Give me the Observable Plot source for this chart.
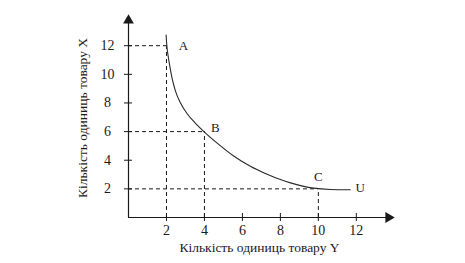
<!DOCTYPE html>
<html>
<head>
<meta charset="utf-8">
<script src="https://cdn.jsdelivr.net/npm/d3@7"></script>
<script src="https://cdn.jsdelivr.net/npm/@observablehq/plot@0.6"></script>
<style>
  html, body { margin: 0; padding: 0; background: #fff; }
  #chart svg { display: block; background: linear-gradient(#8a8a8a 0, #8a8a8a 2px, #fff 2px); }
</style>
</head>
<body>
<div id="chart"></div>
<script>
// ---- data ----
const xTicks = [2, 4, 6, 8, 10, 12];
const yTicks = [2, 4, 6, 8, 10, 12];
const curveX = [1.98, 2.02, 2.08, 2.16, 2.3, 2.47, 2.74, 3.09, 3.53, 4.0, 4.67, 5.54, 6.42, 7.3, 8.0, 8.53, 9.75, 10.63, 11.68];
const curveY = [12.75, 12.0, 11.35, 10.7, 9.7, 8.85, 8.0, 7.25, 6.58, 5.97, 5.2, 4.3, 3.58, 3.02, 2.65, 2.42, 2.05, 1.96, 1.94];
const pointNames = ["A", "B", "C"];
const pointX = [2, 4, 10];
const pointY = [12, 6, 2];
const curveName = "U";
const xTitle = "Кількість одиниць товару Y";
const yTitle = "Кількість одиниць товару X";
const xMax = 13.8;
const yMax = 13.9;

// ---- tables ----
const curve = curveX.map((x, i) => ({x, y: curveY[i]}));
const points = pointNames.map((name, i) => ({name, x: pointX[i], y: pointY[i]}));
const last = curve[curve.length - 1];

const font = "Liberation Serif, Times New Roman, serif";
const ink = "#1a1a1a";

const chart = Plot.plot({
  width: 465,
  height: 263,
  marginLeft: 128,
  marginRight: 75,
  marginTop: 18,
  marginBottom: 46,
  style: {fontFamily: font, fontSize: "13px", color: ink, background: "transparent"},
  x: {domain: [0, xMax], axis: null},
  y: {domain: [0, yMax], axis: null},
  marks: [
    // dashed guides
    Plot.ruleY(points, {y: "y", x1: 0, x2: "x", stroke: ink, strokeWidth: 1, strokeDasharray: "4,3"}),
    Plot.ruleX(points, {x: "x", y1: 0, y2: "y", stroke: ink, strokeWidth: 1, strokeDasharray: "4,3"}),
    // axes lines
    Plot.ruleX([0], {y1: 0, y2: yMax, stroke: ink, strokeWidth: 1.2}),
    Plot.ruleY([0], {x1: 0, x2: xMax, stroke: ink, strokeWidth: 1.2}),
    Plot.dot([{x: 0, y: yMax}], {x: "x", y: "y", symbol: "triangle", r: 4, fill: ink, stroke: null, dy: 2}),
    Plot.dot([{x: xMax, y: 0}], {x: "x", y: "y", symbol: "triangle", r: 4, fill: ink, stroke: null, rotate: 90, dx: -2}),
    // crossing tick marks
    Plot.ruleX(xTicks, {x: d => d, y1: 0, y2: 0, insetTop: -4, insetBottom: -4, stroke: ink, strokeWidth: 1}),
    Plot.ruleY(yTicks, {y: d => d, x1: 0, x2: 0, insetLeft: -4, insetRight: -4, stroke: ink, strokeWidth: 1}),
    // tick labels
    Plot.text(xTicks, {x: d => d, y: 0, dy: 13, text: d => String(d), fill: ink, fontSize: 14}),
    Plot.text(yTicks, {x: 0, y: d => d, dx: -21, text: d => String(d), fill: ink, fontSize: 14}),
    // curve
    Plot.line(curve, {x: "x", y: "y", curve: "monotone-x", stroke: "#2a2a2a", strokeWidth: 1.1}),
    // point labels
    Plot.text(points.filter(d => d.name === "A"), {x: "x", y: "y", text: "name", dx: 17, dy: 0, fill: ink, fontSize: 13}),
    Plot.text(points.filter(d => d.name === "B"), {x: "x", y: "y", text: "name", dx: 11, dy: -4, fill: ink, fontSize: 13}),
    Plot.text(points.filter(d => d.name === "C"), {x: "x", y: "y", text: "name", dx: 0, dy: -12, fill: ink, fontSize: 13}),
    Plot.text([last], {x: "x", y: "y", text: () => curveName, dx: 10, dy: -2, fill: ink, fontSize: 13}),
    // axis titles
    Plot.text([xTitle], {frameAnchor: "bottom", lineAnchor: "middle", dy: 30, text: d => d, fill: ink, fontSize: 13.5}),
    Plot.text([yTitle], {frameAnchor: "left", textAnchor: "middle", lineAnchor: "middle", dx: -46, rotate: -90, text: d => d, fill: ink, fontSize: 13.5})
  ]
});
document.getElementById("chart").appendChild(chart);
</script>
</body>
</html>
